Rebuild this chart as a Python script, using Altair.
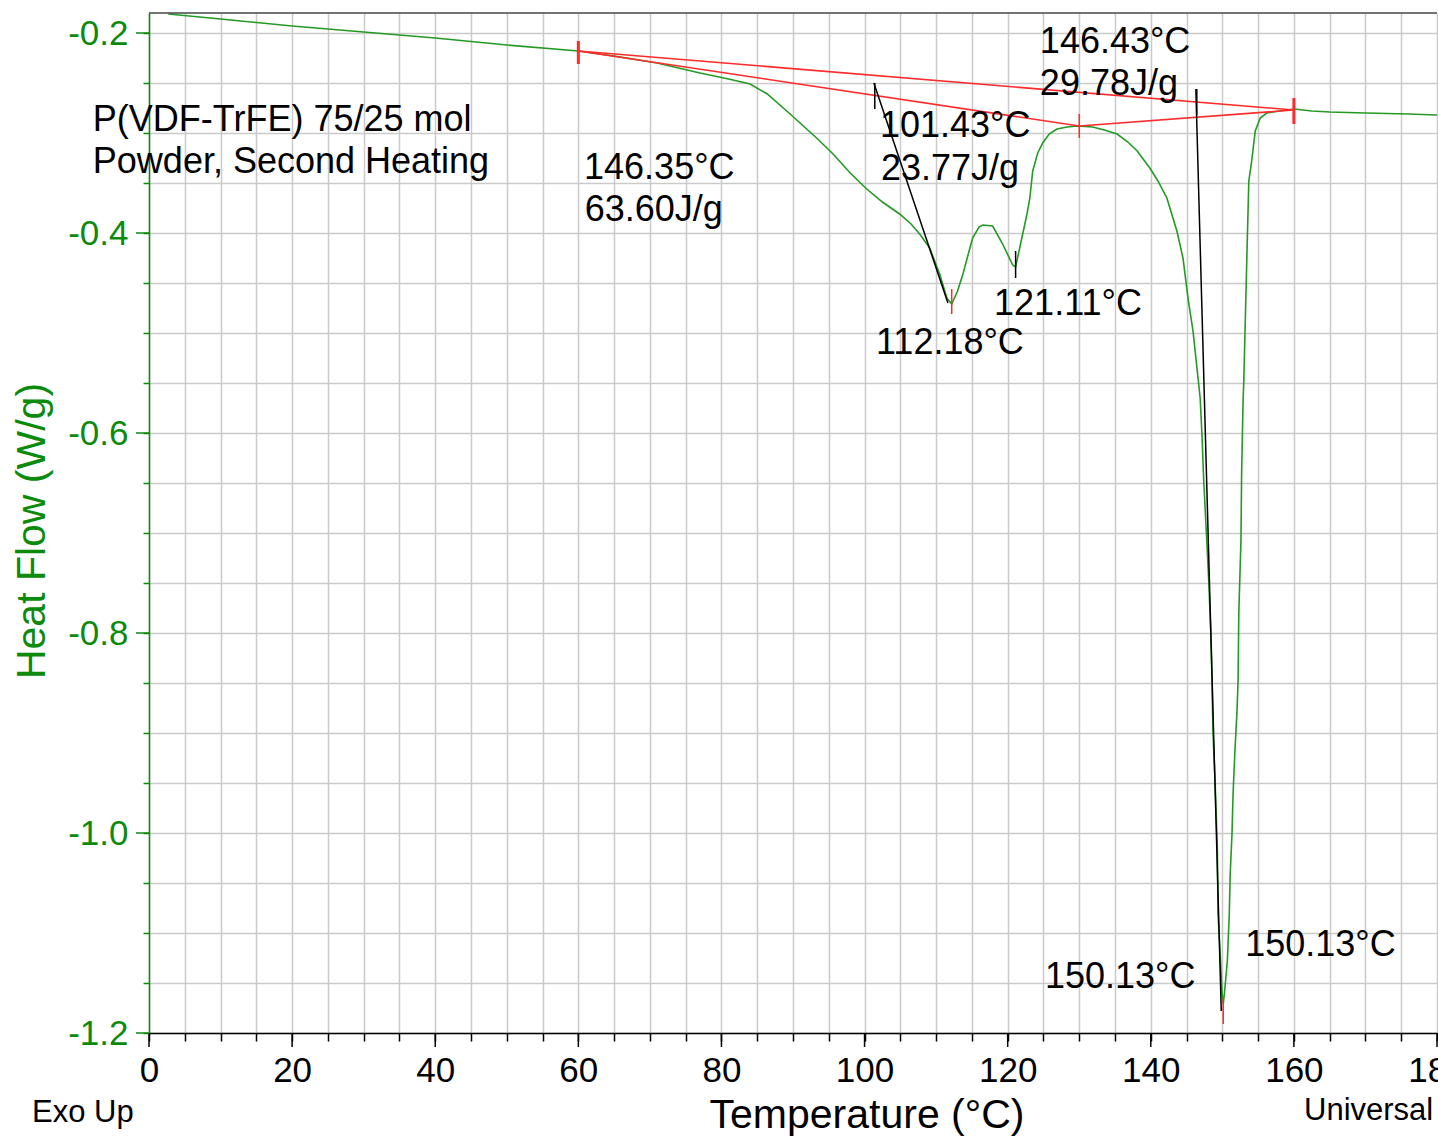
import altair as alt
import pandas as pd

# DSC trace: P(VDF-TrFE) 75/25 mol powder, second heating
temperature = [2.7, 10, 20, 30, 40, 50, 60, 65, 71, 77, 81, 84, 86.4, 89.6, 93.3, 95.6, 98,
               100.3, 102.5, 104.9, 106.5, 107.7, 109.1, 110.5, 111.5, 112.18, 113.0, 113.75,
               115.1, 116.0, 116.5, 117.9, 119.3, 120.7, 121.11, 122.1, 122.7, 123.1, 123.5,
               124.2, 124.9, 125.8, 126.9, 128.3, 129.7, 131.9, 133.5, 135.3, 136.8, 138.1,
               139.87, 141.0, 142.25, 143.65, 144.5, 145.2, 145.9, 146.9, 147.15, 147.4, 147.85,
               148.1, 148.4, 148.55, 148.7, 149.0, 149.3, 149.4, 149.7, 149.97, 150.13, 150.3,
               150.7, 150.97, 151.1, 151.35, 151.5, 151.76, 152.05, 152.2, 152.3, 152.6, 152.7,
               152.9, 153.0, 153.45, 153.7, 154.1, 154.6, 155.3, 156.2, 158.05, 160.0, 162.5,
               165, 170, 176, 180]
heat_flow = [-0.181, -0.186, -0.193, -0.199, -0.205, -0.212, -0.218, -0.223, -0.230, -0.240,
             -0.246, -0.251, -0.261, -0.281, -0.305, -0.321, -0.340, -0.356, -0.369, -0.381,
             -0.391, -0.401, -0.415, -0.441, -0.465, -0.471, -0.458, -0.441, -0.405, -0.394,
             -0.392, -0.393, -0.411, -0.432, -0.434, -0.401, -0.381, -0.365, -0.338, -0.320,
             -0.310, -0.301, -0.296, -0.294, -0.293, -0.294, -0.297, -0.301, -0.309, -0.318,
             -0.335, -0.348, -0.365, -0.398, -0.425, -0.465, -0.498, -0.565, -0.601, -0.648,
             -0.711, -0.748, -0.801, -0.845, -0.901, -0.951, -1.015, -1.081, -1.121, -1.161,
             -1.171, -1.160, -1.128, -1.081, -1.041, -1.001, -0.961, -0.918, -0.878, -0.848,
             -0.781, -0.708, -0.638, -0.568, -0.548, -0.418, -0.348, -0.328, -0.298, -0.285,
             -0.280, -0.278, -0.276, -0.278, -0.279, -0.280, -0.281, -0.282]

# integration baselines (red)
baseline_T = [60, 160, 60, 130, 160]
baseline_HF = [-0.218, -0.277, -0.218, -0.293, -0.277]
baseline_seg = ["full", "full", "split", "split", "split"]

# onset tangents (black)
tangent_T = [101.3, 111.65, 146.3, 149.85]
tangent_HF = [-0.250, -0.470, -0.256, -1.178]
tangent_seg = ["first", "first", "main", "main"]

# limit / peak markers
red_mark_T = [60, 130, 160, 112.18, 150.13]
red_mark_top = [-0.208, -0.281, -0.265, -0.456, -1.165]
red_mark_bottom = [-0.231, -0.305, -0.291, -0.481, -1.191]
red_mark_width = [3, 1.5, 3, 1.5, 1.5]
black_mark_T = [101.43, 121.11, 146.43]
black_mark_top = [-0.250, -0.418, -0.256]
black_mark_bottom = [-0.276, -0.445, -0.282]

# annotation texts and anchor points
note_text = ["P(VDF-TrFE) 75/25 mol", "Powder, Second Heating", "146.35°C", "63.60J/g",
             "101.43°C", "23.77J/g", "146.43°C", "29.78J/g", "121.11°C", "112.18°C",
             "150.13°C", "150.13°C"]
note_T = [-7.85, -7.85, 60.8, 60.9, 102.15, 102.3, 124.5, 124.5, 118.1, 101.6, 125.2, 153.2]
note_HF = [-0.298, -0.340, -0.346, -0.388, -0.304, -0.347, -0.220, -0.262, -0.482, -0.521,
           -1.155, -1.123]

x_ticks = list(range(0, 181, 5))
x_major = list(range(0, 181, 20))
y_ticks = [round(-1.2 + 0.05 * i, 2) for i in range(21)]
y_major = [round(-1.2 + 0.2 * i, 1) for i in range(6)]

W, H = 1288, 1020
FONT = "Liberation Sans"
GREEN = "#0b8a0b"
CURVE = "#239a23"
RED = "#ff2a2a"

xs = alt.Scale(domain=[0, 180], nice=False, zero=False)
ys = alt.Scale(domain=[-1.2, -0.18], nice=False, zero=False)

x_axis = alt.Axis(values=x_ticks, grid=True, gridColor="#cacaca", gridWidth=1.5,
                  tickSize=8, tickWidth=1.5, tickColor="black",
                  domainColor="black", domainWidth=1.5,
                  labelExpr="datum.value % 20 === 0 ? datum.label : ''",
                  labelFont=FONT, labelFontSize=35, labelColor="black",
                  labelPadding=12, labelFlush=False, labelOverlap=False, title=None)
y_axis = alt.Axis(values=y_ticks, grid=True, gridColor="#cacaca", gridWidth=1.5,
                  tickSize=6, tickWidth=1.5, tickColor=GREEN,
                  domainColor=GREEN, domainWidth=1.5,
                  labelExpr="abs(datum.value*5 - round(datum.value*5)) < 0.001 ? "
                            "'-' + format(abs(datum.value), '.1f') : ''",
                  labelFont=FONT, labelFontSize=35, labelColor=GREEN,
                  labelPadding=15, labelOverlap=False, title=None)


def xenc(field):
    return alt.X(field, scale=xs, axis=x_axis)


def yenc(field):
    return alt.Y(field, scale=ys, axis=y_axis)


curve_df = pd.DataFrame({"T": temperature, "HF": heat_flow})
base_df = pd.DataFrame({"T": baseline_T, "HF": baseline_HF, "seg": baseline_seg})
tan_df = pd.DataFrame({"T": tangent_T, "HF": tangent_HF, "seg": tangent_seg})
red_df = pd.DataFrame({"T": red_mark_T, "top": red_mark_top, "bot": red_mark_bottom,
                       "w": red_mark_width})
black_df = pd.DataFrame({"T": black_mark_T, "top": black_mark_top, "bot": black_mark_bottom})
note_df = pd.DataFrame({"T": note_T, "HF": note_HF, "label": note_text})
one = pd.DataFrame({"k": [0]})

curve = alt.Chart(curve_df).mark_line(color=CURVE, strokeWidth=1.6).encode(
    x=xenc("T:Q"), y=yenc("HF:Q"),
)

baselines = alt.Chart(base_df).mark_line(color=RED, strokeWidth=1.6).encode(
    x=xenc("T:Q"), y=yenc("HF:Q"), detail="seg:N",
)

tangents = alt.Chart(tan_df).mark_line(color="black", strokeWidth=1.5).encode(
    x=xenc("T:Q"), y=yenc("HF:Q"), detail="seg:N",
)

red_marks = alt.Chart(red_df).mark_rule(color=RED).encode(
    x=xenc("T:Q"), y=yenc("top:Q"), y2="bot:Q",
    strokeWidth=alt.StrokeWidth("w:Q", scale=None, legend=None),
)

black_marks = alt.Chart(black_df).mark_rule(color="black", strokeWidth=1.5).encode(
    x=xenc("T:Q"), y=yenc("top:Q"), y2="bot:Q",
)

notes = alt.Chart(note_df).mark_text(
    align="left", baseline="alphabetic", font=FONT, fontSize=36, color="black"
).encode(x=xenc("T:Q"), y=yenc("HF:Q"), text="label:N")

# longer major ticks on both axes
x_major_ticks = alt.Chart(pd.DataFrame({"T": x_major})).mark_rule(
    color="black", strokeWidth=1.5
).encode(x=xenc("T:Q"), y=alt.value(H), y2=alt.value(H + 14))

y_major_ticks = alt.Chart(pd.DataFrame({"HF": y_major})).mark_rule(
    color=GREEN, strokeWidth=1.5
).encode(y=yenc("HF:Q"), x=alt.value(-13), x2=alt.value(0))

top_frame = alt.Chart(one).mark_rule(color="#444444", strokeWidth=1.5).encode(
    x=alt.value(0), x2=alt.value(W), y=alt.value(0)
)

y_title = alt.Chart(one).mark_text(
    angle=270, align="center", baseline="middle", font=FONT, fontSize=41, color=GREEN
).encode(x=alt.value(-116), y=alt.value(518), text=alt.value("Heat Flow (W/g)"))

x_title = alt.Chart(one).mark_text(
    align="center", baseline="alphabetic", font=FONT, fontSize=41, color="black"
).encode(x=alt.value(718), y=alt.value(1115), text=alt.value("Temperature (°C)"))

exo = alt.Chart(one).mark_text(
    align="left", baseline="alphabetic", font=FONT, fontSize=31, color="black"
).encode(x=alt.value(-117), y=alt.value(1109), text=alt.value("Exo Up"))

universal = alt.Chart(one).mark_text(
    align="left", baseline="alphabetic", font=FONT, fontSize=31, color="black"
).encode(x=alt.value(1155), y=alt.value(1107), text=alt.value("Universal"))

chart = alt.layer(
    curve, baselines, tangents, red_marks, black_marks, notes,
    x_major_ticks, y_major_ticks, top_frame, y_title, x_title, exo, universal,
).properties(
    width=W, height=H,
    autosize=alt.AutoSizeParams(type="none"),
    padding={"left": 149, "top": 13, "right": 1, "bottom": 105},
    background="white",
).configure_view(stroke=None)

chart.save("out.html", embed_options={"renderer": "svg", "actions": False})
